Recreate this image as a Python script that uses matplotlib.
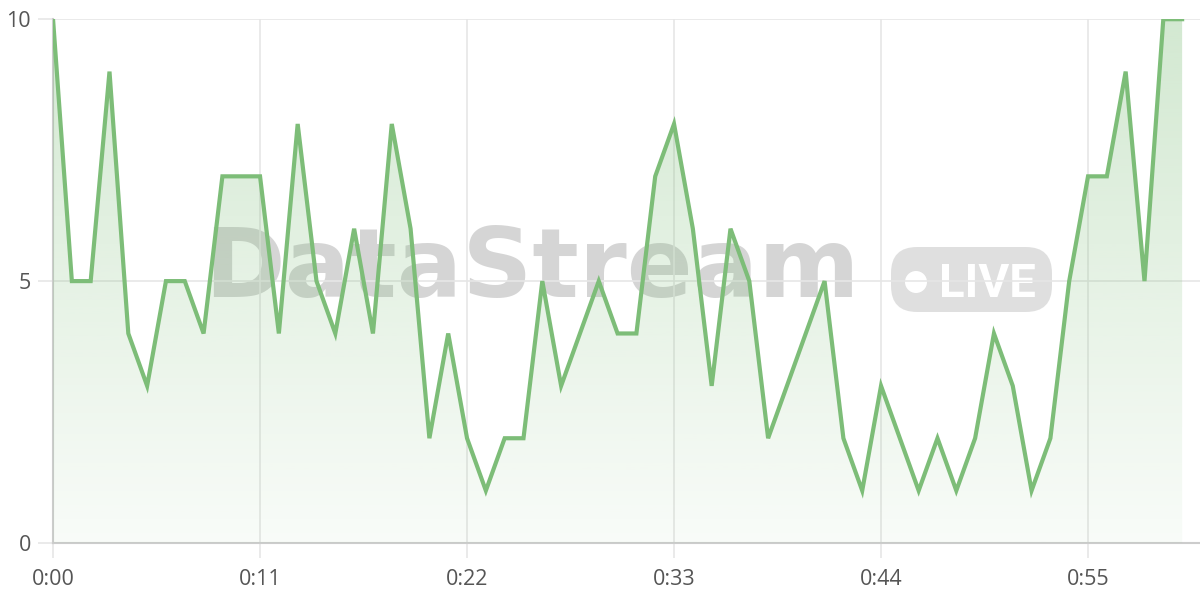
import matplotlib.pyplot as plt
import numpy as np
from matplotlib.patches import FancyBboxPatch, Circle
from matplotlib.transforms import IdentityTransform

# one sample per second, 0:00 .. 1:00
seconds = list(range(61))
values = [10, 5, 5, 9, 4, 3, 5, 5, 4, 7, 7, 7, 4, 8, 5, 4, 6, 4, 8, 6,
          2, 4, 2, 1, 2, 2, 5, 3, 4, 5, 4, 4, 7, 8, 6, 3, 6, 5, 2, 3,
          4, 5, 2, 1, 3, 2, 1, 2, 1, 2, 4, 3, 1, 2, 5, 7, 7, 9, 5, 10, 10]
tick_secs = [0, 11, 22, 33, 44, 55]
tick_labels = ['0:00', '0:11', '0:22', '0:33', '0:44', '0:55']
y_ticks = [0, 5, 10]

line_col = '#7dbd78'
txt_col = '#555555'

plt.rcParams['font.family'] = ['Open Sans', 'DejaVu Sans']

fig = plt.figure(figsize=(12, 6), dpi=100)
ax = fig.add_axes([0.0442, 0.095, 0.9558, 0.873])
ax.set_facecolor('none')

# gradient fill under the line (stronger at top, fading to the bottom)
rgba = np.zeros((256, 1, 4))
rgba[..., 0] = 0x7d / 255
rgba[..., 1] = 0xbd / 255
rgba[..., 2] = 0x78 / 255
rgba[..., 3] = np.linspace(0.34, 0.05, 256).reshape(-1, 1)
img = ax.imshow(rgba, extent=[0, 60, 0, 10], aspect='auto', zorder=3,
                origin='upper')
poly = ax.fill_between(seconds, values, 0, color='none', lw=0)
img.set_clip_path(poly.get_paths()[0], ax.transData)
ax.set_xlim(0, 60.95)
ax.set_ylim(0, 10)

ax.plot(seconds, values, color=line_col, lw=3, zorder=4, solid_joinstyle='miter')

# watermark behind the axes (pixel positions, figure is 1200x600 at 100 dpi)
px = IdentityTransform()
fig.text(204 / 1200, 1 - 297 / 600, 'DataStream', family='DejaVu Sans',
         fontsize=70, fontweight='bold', color='#c4c4c4', alpha=0.7,
         ha='left', va='baseline', zorder=-3)
badge = FancyBboxPatch((891, 600 - 312), 161, 65, transform=px,
                       boxstyle='round,pad=0,rounding_size=26',
                       fc='#d8d8d8', ec='none', alpha=0.8, zorder=-3)
fig.patches.append(badge)
fig.patches.append(Circle((916, 600 - 282), 11, transform=px,
                          fc='white', ec='none', zorder=-2))
fig.text(939 / 1200, 1 - 297 / 600, 'LIVE', family=['Roboto', 'DejaVu Sans'],
         fontsize=34, fontweight='bold', color='white', ha='left',
         va='baseline', zorder=-2)

ax.set_xticks(tick_secs)
ax.set_xticklabels(tick_labels)
ax.set_yticks(y_ticks)
ax.grid(True, color='#e6e6e6', lw=1.2, zorder=0)
ax.set_axisbelow(True)
for s in ['top', 'right']:
    ax.spines[s].set_visible(False)
for s in ['left', 'bottom']:
    ax.spines[s].set_color('#cccccc')
    ax.spines[s].set_linewidth(1.5)
ax.tick_params(axis='both', length=11, width=1.2, color='#e6e6e6',
               labelcolor=txt_col, labelsize=15.5)
ax.tick_params(axis='x', pad=8)
ax.tick_params(axis='y', pad=5)

fig.savefig('out.png', dpi=100)
